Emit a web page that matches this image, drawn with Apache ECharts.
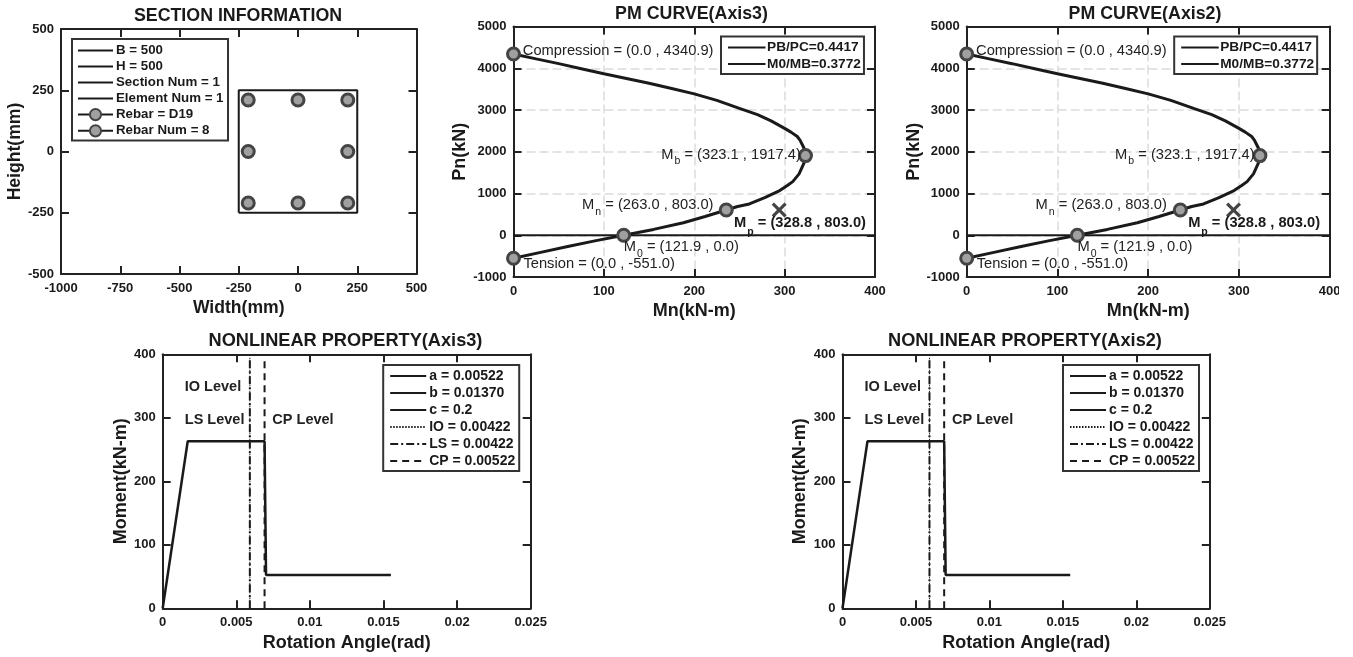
<!DOCTYPE html>
<html><head><meta charset="utf-8">
<style>html,body{margin:0;padding:0;background:#fff}#c{width:1353px;height:657px}</style>
<script src="https://cdn.jsdelivr.net/npm/echarts@6/dist/echarts.min.js"></script>
</head><body><div id="c"></div>
<script>
// ---- data ----
const sectionOutlineX = [-250, 250, 250, -250, -250];
const sectionOutlineY = [-250, -250, 250, 250, -250];
const rebarX = [-210, 0, 210, -210, 210, -210, 0, 210];
const rebarY = [210, 210, 210, 0, 0, -210, -210, -210];
const sectionLegend = ['B = 500', 'H = 500', 'Section Num = 1', 'Element Num = 1', 'Rebar = D19', 'Rebar Num = 8'];

const pmMn = [0, 25, 50, 75, 100, 125, 150, 175, 200, 225, 250, 270, 285, 300, 307, 314, 317, 320, 322, 323.1, 322, 316, 309, 303, 294.6, 278, 261, 248, 235.4, 212, 188, 155, 121.9, 90, 60, 30, 0];
const pmPn = [4340.9, 4225, 4110, 3990, 3870, 3755, 3640, 3515, 3386, 3230, 3040, 2890, 2740, 2560, 2470, 2365, 2280, 2150, 2060, 1917.4, 1760, 1470, 1285, 1190, 1070, 900, 750, 690, 606, 450, 300, 140, 0, -135, -270, -410, -551];
const pmKeyMn = [0, 323.1, 235.4, 121.9, 0];
const pmKeyPn = [4340.9, 1908, 606, 0, -551];
const pmCapacityMn = [294];
const pmCapacityPn = [606];
const pmZeroMn = [0, 400];
const pmZeroPn = [0, 0];
const pmLegend = ['PB/PC=0.4417', 'M0/MB=0.3772'];
const pmNotes = ['Compression = (0.0 , 4340.9)', '{m|M}{s|b}{m| = (323.1 , 1917.4)}', '{m|M}{s|n}{m| = (263.0 , 803.0)}', '{bm|M}{bs|p}{bm| = (328.8 , 803.0)}', '{m|M}{s|0}{m| = (121.9 , 0.0)}', 'Tension = (0.0 , -551.0)'];
const pmNoteMn = [10.3, 163.5, 75.9, 244, 122, 11];
const pmNotePn = [4420, 1935, 730, 290, -275, -690];

const hingeRot = [0, 0.0017, 0.00692, 0.00702, 0.0155];
const hingeMom = [0, 263, 263, 52.6, 52.6];
const levelLS = 0.00592;
const levelCP = 0.00692;
const levelMom = [0, 395];
const hingeLegend = ['a = 0.00522', 'b = 0.01370', 'c = 0.2', 'IO = 0.00422', 'LS = 0.00422', 'CP = 0.00522'];
const hingeNotes = ['IO Level', 'LS Level', 'CP Level'];
const hingeNoteRot = [0.0015, 0.0015, 0.00745];
const hingeNoteMom = [348, 297, 297];

const zip = (a, b) => a.map((v, i) => [v, b[i]]);
// ---- styles ----
const FONT = 'Liberation Sans', INK = '#222';
const option = { animation: false, backgroundColor: '#fff', textStyle: { fontFamily: FONT },
  title: [], grid: [], xAxis: [], yAxis: [], legend: [], series: [],
  graphic: [{ type: 'rect', z: 1000, shape: { x: 1339, y: 270, width: 14, height: 40 }, style: { fill: '#fff' } }] };
const plain = v => String(v);
const hideMark = { color: 'transparent', borderColor: 'transparent', borderWidth: 0 };

function addPlot(p) {
  const g = option.grid.length;
  option.grid.push({ left: p.l, top: p.t, width: p.w, height: p.h, containLabel: false });
  option.title.push({ text: p.title, left: p.titleC, top: p.titleTop, textAlign: 'center', padding: 0,
    textStyle: { fontFamily: FONT, fontSize: p.titleSize, fontWeight: 'bold', color: '#1a1a1a' } });
  const base = (min, max, step) => ({ type: 'value', gridIndex: g, min, max, interval: step, scale: false });
  const split = { show: !!p.grid, lineStyle: { color: '#dcdcdc', width: 1.5, type: [9, 4] } };
  const line = { show: true, onZero: false, lineStyle: { color: INK, width: 2 } };
  const tick = { show: true, inside: true, length: 8, lineStyle: { color: INK, width: 2 } };
  const lab = { color: '#1a1a1a', fontFamily: FONT, fontWeight: 'bold', fontSize: 13, hideOverlap: false, formatter: plain };
  const nm = { color: '#1a1a1a', fontFamily: FONT, fontWeight: 'bold', fontSize: p.nameSize };
  option.xAxis.push({ ...base(...p.x), position: 'bottom', axisLine: line, axisTick: tick, splitLine: split,
    axisLabel: { ...lab, margin: 8 }, name: p.xName, nameLocation: 'middle', nameGap: p.xGap, nameTextStyle: nm });
  option.yAxis.push({ ...base(...p.y), position: 'left', axisLine: line, axisTick: tick, splitLine: split,
    axisLabel: { ...lab, margin: 7 }, name: p.yName, nameLocation: 'middle', nameGap: p.yGap, nameTextStyle: nm });
  const xi = option.xAxis.length - 1, yi = option.yAxis.length - 1;
  option.xAxis.push({ ...base(...p.x), position: 'top', axisLine: line, axisTick: tick, splitLine: { show: false }, axisLabel: { show: false } });
  option.yAxis.push({ ...base(...p.y), position: 'right', axisLine: line, axisTick: tick, splitLine: { show: false }, axisLabel: { show: false } });
  option.legend.push({ left: p.lg.l, top: p.lg.t, orient: 'vertical', align: 'left', selectedMode: false,
    data: p.lg.names.map((name, i) => (p.lg.marked && p.lg.marked.includes(i)) ? { name } : { name, itemStyle: hideMark }),
    itemWidth: p.lg.iw, itemHeight: p.lg.ih || 12, itemGap: p.lg.gap, padding: p.lg.pad,
    backgroundColor: '#fff', borderColor: '#333', borderWidth: 2, borderRadius: 0, z: 20,
    textStyle: { fontFamily: FONT, fontWeight: 'bold', fontSize: p.lg.fs, color: '#1a1a1a', padding: [0, 0, 0, p.lg.tp] } });
  return { xAxisIndex: xi, yAxisIndex: yi };
}
const lineS = (ax, name, data, width, type, extra) => ({ type: 'line', name, data, ...ax, showSymbol: false, symbol: 'none',
  clip: false, silent: true, lineStyle: { color: '#1a1a1a', width, type: type || 'solid' }, itemStyle: { color: '#1a1a1a' }, ...(extra || {}) });
const MARKER = { color: '#a0a0a0', borderColor: '#444', borderWidth: 3, opacity: 1 };
const rich = {
  m: { fontSize: 14.7, color: '#222' }, s: { fontSize: 10.5, color: '#222', padding: [14, 0, 0, 1] },
  bm: { fontSize: 14.7, fontWeight: 'bold', color: '#1a1a1a' }, bs: { fontSize: 10.5, fontWeight: 'bold', color: '#1a1a1a', padding: [18, 0, 0, 1] }
};
const notes = (ax, xs, ys, texts, style) => ({ type: 'scatter', ...ax, symbolSize: 0, silent: true, z: 10, clip: false, itemStyle: { opacity: 1 },
  data: zip(xs, ys).map((d, i) => ({ value: d, label: { show: true, position: 'right', distance: 0, formatter: texts[i], rich, ...style } })) });

// ---- section ----
(function () {
  const ax = addPlot({ title: 'SECTION INFORMATION', titleC: 238, titleSize: 17.8, titleTop: 7.5, l: 61, t: 29, w: 355.5, h: 245, nameSize: 17.6,
    x: [-1000, 500, 250], y: [-500, 500, 250], xName: 'Width(mm)', yName: 'Height(mm)', xGap: 25, yGap: 35,
    lg: { l: 72, t: 39, names: sectionLegend, marked: [4, 5], iw: 35, ih: 14, gap: 3, pad: [5, 4.5, 3, 5], fs: 13.3, tp: -2 } });
  sectionLegend.slice(0, 4).forEach(n => option.series.push(lineS(ax, n, [], 2)));
  sectionLegend.slice(4).forEach(n => option.series.push(lineS(ax, n, [], 3, 'solid', { symbol: 'circle', showSymbol: true, symbolSize: 12, itemStyle: MARKER })));
  option.series.push(lineS(ax, 'outline', zip(sectionOutlineX, sectionOutlineY), 2));
  option.series.push({ type: 'scatter', ...ax, data: zip(rebarX, rebarY), symbolSize: 12, itemStyle: MARKER, silent: true, z: 5 });
})();

// ---- P-M curves ----
function pm(title, l, w, titleC) {
  const ax = addPlot({ title, titleC, titleSize: 17.8, titleTop: 5, l, t: 26.5, w, h: 250.5, grid: true, nameSize: 18,
    x: [0, 400, 100], y: [-1000, 5000, 1000], xName: 'Mn(kN-m)', yName: 'Pn(kN)', xGap: 25, yGap: 43,
    lg: { l: l + 207.5, t: 36.5, names: pmLegend, iw: 37.5, gap: 2.5, pad: [4, 3, 3, 6], fs: 13.7, tp: -3.5 } });
  pmLegend.forEach(n => option.series.push(lineS(ax, n, [], 2)));
  option.series.push(lineS(ax, 'zero', zip(pmZeroMn, pmZeroPn), 2));
  option.series.push(lineS(ax, 'curve', zip(pmMn, pmPn), 3, 'solid', { z: 3 }));
  option.series.push({ type: 'scatter', ...ax, data: zip(pmKeyMn, pmKeyPn), symbolSize: 12, itemStyle: MARKER, silent: true, z: 5, clip: false });
  option.series.push({ type: 'scatter', ...ax, data: zip(pmCapacityMn, pmCapacityPn), symbol: 'path://M3 0L0 3L7 10L0 17L3 20L10 13L17 20L20 17L13 10L20 3L17 0L10 7Z', symbolSize: 15, itemStyle: { color: '#444', opacity: 1 }, silent: true, z: 5 });
  option.series.push(notes(ax, pmNoteMn, pmNotePn, pmNotes, { fontSize: 14.7, color: '#222', fontFamily: FONT }));
}
pm('PM CURVE(Axis3)', 513.5, 361.5, 691.5);
pm('PM CURVE(Axis2)', 966.7, 363, 1145);

// ---- nonlinear hinge ----
function hinge(title, l, w, titleC) {
  const ax = addPlot({ title, titleC, titleSize: 18.2, titleTop: 332, l, t: 354.3, w, h: 254, nameSize: 18,
    x: [0, 0.025, 0.005], y: [0, 400, 100], xName: 'Rotation Angle(rad)', yName: 'Moment(kN-m)', xGap: 26, yGap: 33,
    lg: { l: l + 220.5, t: 365, names: hingeLegend, iw: 36, gap: 3, pad: [4, 4, 3, 6], fs: 14, tp: -2 } });
  hingeLegend.slice(0, 3).forEach(n => option.series.push(lineS(ax, n, [], 2)));
  option.series.push(lineS(ax, hingeLegend[3], zip([levelLS, levelLS], levelMom), 1, [1.5, 1.5]));
  option.series.push(lineS(ax, hingeLegend[4], zip([levelLS, levelLS], levelMom), 2, [8, 3, 2, 3]));
  option.series.push(lineS(ax, hingeLegend[5], zip([levelCP, levelCP], levelMom), 2, [7, 5]));
  option.series.push(lineS(ax, 'hinge', zip(hingeRot, hingeMom), 2.5, 'solid', { z: 3 }));
  option.series.push(notes(ax, hingeNoteRot, hingeNoteMom, hingeNotes, { fontSize: 14.5, fontWeight: 'bold', color: '#222', fontFamily: FONT }));
}
hinge('NONLINEAR PROPERTY(Axis3)', 162.7, 368, 345.5);
hinge('NONLINEAR PROPERTY(Axis2)', 842.5, 367.3, 1025);

echarts.init(document.getElementById('c'), null, { renderer: 'canvas' }).setOption(option);
</script></body></html>
